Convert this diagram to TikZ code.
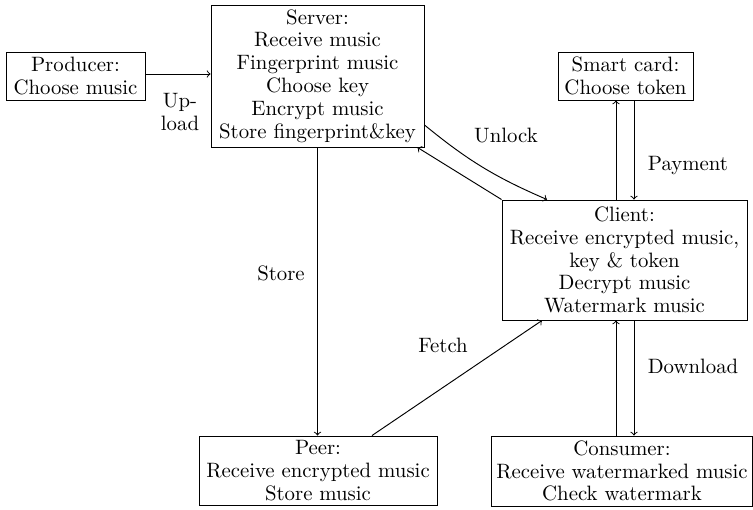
\documentclass[tikz,border=0pt]{standalone}
\usetikzlibrary{calc}
\newlength\pxl
\setlength\pxl{0.5263pt}
\begin{document}
\begin{tikzpicture}[x=0.5263pt,y=-0.5263pt, line width=0.5pt,
  font=\fontsize{10.95pt}{12pt}\selectfont,
  box/.style={draw, align=center, inner sep=0pt},
  arr/.style={->},
  lbl/.style={inner sep=0pt, align=center}]
\useasboundingbox (0,0) rectangle (753,510);
\node[box, minimum width=139*\pxl, minimum height=48*\pxl] (prod) at (75.5,76) {Producer:\\Choose music};
\node[box, minimum width=213*\pxl, minimum height=142*\pxl] (serv) at (317.5,76) {Server:\\Receive music\\Fingerprint music\\Choose key\\Encrypt music\\Store fingerprint\&key};
\node[box, minimum width=135*\pxl, minimum height=48*\pxl] (card) at (625.5,76) {Smart card:\\Choose token};
\node[box, minimum width=245*\pxl, minimum height=120*\pxl] (client) at (624.5,260) {Client:\\Receive encrypted music,\\key \& token\\Decrypt music\\Watermark music};
\node[box, minimum width=238*\pxl, minimum height=69*\pxl] (peer) at (318,470.5) {Peer:\\Receive encrypted music\\Store music};
\node[box, minimum width=261*\pxl, minimum height=70*\pxl] (cons) at (622,471) {Consumer:\\Receive watermarked music\\Check watermark};

\draw[arr] ($(prod.east)+(0,-2)$) -- ($(serv.west)+(0,-2)$);
\node[lbl] (up) at (180,112) {Up-\\load};

\draw[arr] (serv.south) -- (serv.south |- peer.north);
\node[lbl] (store) at (281,273) {Store};

\draw[arr] ($(peer.north)+(54,0)$) -- ($(client.south)+(-82.5,0)$);
\node[lbl] (fetch) at (443,345) {Fetch};

\draw[arr] ($(serv.east)+(0,49)$) to[bend right=8] ($(client.north)+(-77.5,0)$);
\draw[arr] (client.north west) -- ($(serv.south east)+(-7,0)$);
\node[lbl] (unlock) at (506,136) {Unlock};

\draw[arr] ($(client.north)+(-8.5,0)$) -- ($(card.south)+(-9.5,0)$);
\draw[arr] ($(card.south)+(8.5,0)$) -- ($(client.north)+(9.5,0)$);
\node[lbl] (pay) at (688,166) {Payment};

\draw[arr] ($(cons.north)+(-6,0)$) -- ($(client.south)+(-8.5,0)$);
\draw[arr] ($(client.south)+(9.5,0)$) -- ($(cons.north)+(12,0)$);
\node[lbl] (down) at (693,366) {Download};
\end{tikzpicture}
\end{document}
